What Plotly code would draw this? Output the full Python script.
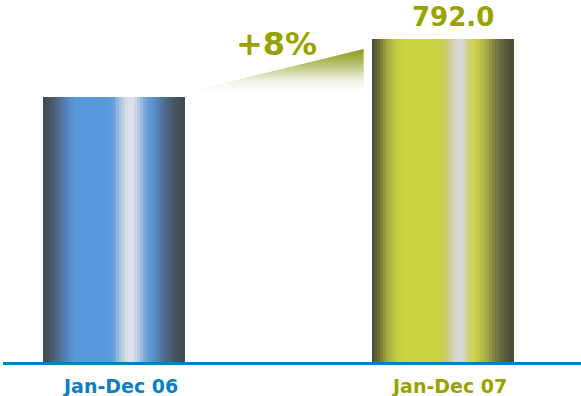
import plotly.graph_objects as go

# ---- data ----
categories = ["Jan-Dec 06", "Jan-Dec 07"]
values = [733.3, 792.0]
value_label = "792.0"
label_colors = ["#0a7fc4", "#99a300"]

# ---- styling helpers ----
blue_stops = [
    (0.00, "#404850"), (0.06, "#4a5868"), (0.12, "#50709a"), (0.18, "#5888c8"),
    (0.24, "#5898dc"), (0.45, "#5898dc"), (0.50, "#6aa0d8"), (0.55, "#a8c4e0"),
    (0.60, "#e0e0e8"), (0.64, "#e0e0e8"), (0.68, "#b0c8e0"), (0.73, "#70a0d8"),
    (0.78, "#5890d0"), (0.85, "#50709a"), (0.92, "#485868"), (1.00, "#404850"),
]
green_stops = [
    (0.00, "#484838"), (0.06, "#707238"), (0.12, "#a8b040"), (0.18, "#c4ce44"),
    (0.24, "#c8d440"), (0.48, "#c8d440"), (0.53, "#c8cc70"), (0.57, "#d0d0a8"),
    (0.61, "#d8d8d8"), (0.64, "#d8d8d8"), (0.68, "#d0d088"), (0.73, "#d0d050"),
    (0.80, "#b0b848"), (0.88, "#7a7a40"), (0.94, "#5a5a3c"), (1.00, "#4a4a3a"),
]


def hex2rgb(h):
    h = h.lstrip("#")
    return tuple(int(h[i:i + 2], 16) for i in (0, 2, 4))


def interp(stops, t):
    for (p0, c0), (p1, c1) in zip(stops[:-1], stops[1:]):
        if p0 <= t <= p1:
            f = 0 if p1 == p0 else (t - p0) / (p1 - p0)
            a, b = hex2rgb(c0), hex2rgb(c1)
            r = [round(a[i] + (b[i] - a[i]) * f) for i in range(3)]
            return f"rgb({r[0]},{r[1]},{r[2]})"
    return stops[-1][1]


BAR_W = 0.429
N = 48
step = BAR_W / N

fig = go.Figure()
for k in range(N):
    t = (k + 0.5) / N
    fig.add_trace(go.Bar(
        x=[0, 1], y=values,
        width=step * 1.35, offset=-BAR_W / 2 + k * step,
        marker=dict(color=[interp(blue_stops, t), interp(green_stops, t)], line=dict(width=0)),
        hoverinfo="skip", showlegend=False,
    ))

# growth wedge
v0, v1 = values
tip_x = 0 + BAR_W / 2 + 0.009
right_x = 1 - BAR_W / 2 - 0.024
fig.add_trace(go.Scatter(
    x=[tip_x, right_x, right_x, tip_x],
    y=[v0 + 5, v1 - 10, v0 + 5, v0 + 5],
    mode="lines", line=dict(width=0), fill="toself",
    fillgradient=dict(type="vertical",
                      colorscale=[[0, "rgba(255,255,255,1)"], [0.25, "#f3f4e6"],
                                  [0.65, "#b8c070"], [1, "#8a9a10"]]),
    hoverinfo="skip", showlegend=False,
))

growth = round((v1 / v0 - 1) * 100)
annotations = [
    dict(x=0.495, y=v1 - 5, text=f"+{growth}%", showarrow=False, yanchor="middle",
         font=dict(family="DejaVu Sans", size=32, color="#99a300", weight=700)),
    dict(x=1, y=v1, text=value_label, showarrow=False, yanchor="bottom", xshift=11, yshift=5,
         font=dict(family="DejaVu Sans", size=26, color="#99a300", weight=700)),
]
for i, (cat, col) in enumerate(zip(categories, label_colors)):
    annotations.append(dict(
        x=i, y=0, yref="paper", text=cat, showarrow=False, yanchor="top",
        xshift=6 + i, yshift=-11,
        font=dict(family="DejaVu Sans", size=19, color=col, weight=700)))

fig.update_layout(
    width=581, height=396,
    margin=dict(l=3, r=0, t=0, b=34),
    barmode="overlay", bargap=0,
    plot_bgcolor="white", paper_bgcolor="white",
    xaxis=dict(range=[-0.3364, 1.4231], showticklabels=False, showgrid=False, zeroline=False,
               showline=True, linecolor="#0a7fc0", linewidth=3, ticks=""),
    yaxis=dict(range=[465.1, 831.5], visible=False, showgrid=False, zeroline=False),
    annotations=annotations,
)

fig.write_html("out.html", config={"displayModeBar": False},
               post_script="document.body.style.margin='0';")
